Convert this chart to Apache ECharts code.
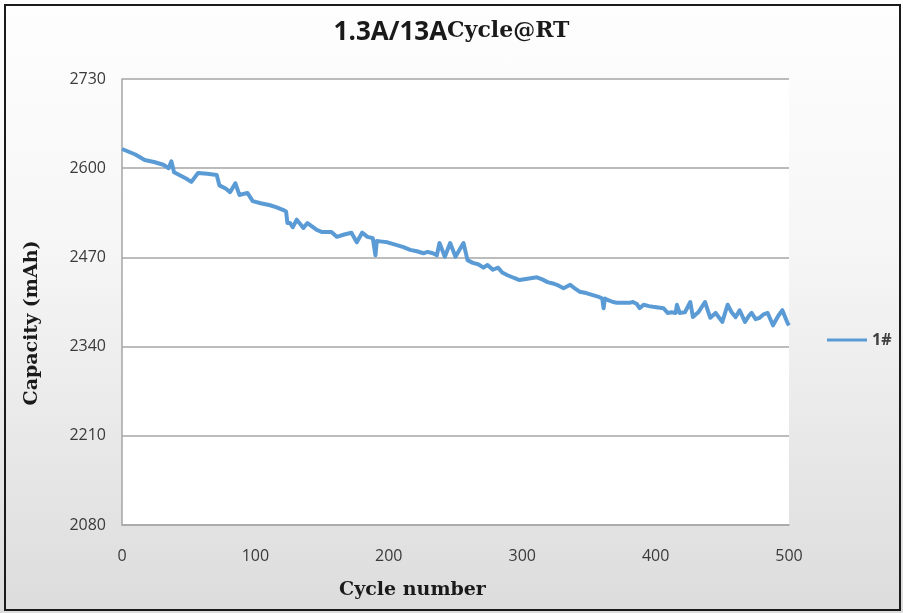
<!DOCTYPE html>
<html>
<head>
<meta charset="utf-8">
<script src="https://cdn.jsdelivr.net/npm/echarts@6/dist/echarts.min.js"></script>
<style>
  html, body { margin: 0; padding: 0; background: #fff; }
  #wrap { position: relative; width: 903px; height: 613px; }
  #main { width: 903px; height: 613px; background: linear-gradient(#fefefe, #f6f6f6 40%, #dcdcdc); }
  #frame { position: absolute; left: 4px; top: 4px; width: 897px; height: 607px; box-sizing: border-box;
           border: 2px solid #1a1a1a; pointer-events: none; }
</style>
</head>
<body>
<div id="wrap">
  <div id="main"></div>
  <div id="frame"></div>
</div>
<script>
const seriesName = '1#';
const cycles = [0, 5, 10, 17, 24, 31, 35, 37, 39, 43, 48, 52, 57, 64, 71, 73, 78, 81, 85, 88, 94, 98,
  104, 111, 116, 121, 123, 124, 126, 128, 131, 136, 139, 146, 150, 157, 161, 166, 172, 176, 180, 184,
  188, 190, 191, 195, 199, 206, 211, 216, 221, 226, 229, 233, 236, 238, 242, 246, 250, 253, 256, 259,
  263, 267, 271, 274, 278, 282, 285, 289, 294, 298, 304, 311, 315, 319, 323, 326, 331, 336, 340, 343,
  348, 353, 358, 360, 361, 362, 364, 368, 371, 376, 381, 383, 386, 388, 391, 395, 398, 402, 406, 409,
  412, 415, 416, 418, 422, 426, 428, 432, 437, 441, 445, 450, 454, 457, 460, 463, 467, 470, 472, 475,
  478, 481, 484, 488, 492, 495, 499, 500];
const capacity = [2628, 2624, 2620, 2612, 2609, 2605, 2600, 2610, 2594, 2590, 2585, 2580, 2593, 2592,
  2590, 2575, 2570, 2565, 2578, 2561, 2564, 2552, 2549, 2546, 2543, 2539, 2537, 2520, 2520, 2514, 2525,
  2513, 2520, 2510, 2507, 2507, 2500, 2503, 2506, 2492, 2506, 2500, 2498, 2473, 2494, 2493, 2492, 2488,
  2485, 2481, 2479, 2476, 2478, 2476, 2473, 2491, 2471, 2491, 2471, 2481, 2491, 2466, 2462, 2460, 2455,
  2459, 2452, 2455, 2448, 2444, 2440, 2437, 2439, 2441, 2438, 2434, 2432, 2430, 2425, 2430, 2424, 2420,
  2418, 2415, 2412, 2410, 2396, 2410, 2408, 2405, 2404, 2404, 2404, 2405, 2402, 2396, 2401, 2399, 2398,
  2397, 2396, 2389, 2390, 2389, 2401, 2389, 2390, 2405, 2383, 2390, 2405, 2382, 2389, 2376, 2401, 2390,
  2383, 2393, 2376, 2385, 2389, 2380, 2382, 2387, 2389, 2371, 2385, 2393, 2374, 2371];
const yTicks = [2080, 2210, 2340, 2470, 2600, 2730];
const xTicks = [0, 100, 200, 300, 400, 500];

const chart = echarts.init(document.getElementById('main'));
const serif = '"DejaVu Serif", "Liberation Serif", serif';

chart.setOption({
  backgroundColor: 'transparent',
  title: {
    text: '{a|1.3A/13A}{b|Cycle@RT}',
    left: 'center',
    top: 15,
    textStyle: {
      rich: {
        a: { fontFamily: '"Open Sans", sans-serif', fontWeight: 'bold', fontSize: 26, color: '#1a1a1a' },
        b: { fontFamily: serif, fontWeight: 'bold', fontSize: 22, color: '#1a1a1a', padding: [0, 0, 4, 0] }
      }
    }
  },
  legend: {
    data: [seriesName],
    left: 822,
    top: 327,
    icon: 'rect',
    itemWidth: 40,
    itemHeight: 3,
    itemGap: 6,
    textStyle: { fontFamily: '"Open Sans", sans-serif', fontSize: 16, fontWeight: 'bold', color: '#404040' }
  },
  grid: {
    left: 122, right: 114, top: 79, bottom: 88,
    show: true, backgroundColor: '#ffffff', borderWidth: 0
  },
  xAxis: {
    type: 'value',
    min: xTicks[0],
    max: xTicks[xTicks.length - 1],
    interval: 100,
    name: 'Cycle number',
    nameLocation: 'middle',
    nameGap: 56,
    nameTextStyle: { fontFamily: serif, fontWeight: 'bold', fontSize: 19, color: '#1a1a1a', padding: [0, 86, 0, 0] },
    axisLine: { show: true, lineStyle: { color: '#a6a6a6', width: 1.5 } },
    axisTick: { show: false },
    splitLine: { show: false },
    axisLabel: { margin: 23, fontFamily: '"Open Sans", sans-serif', fontSize: 16, color: '#3a3a3a' }
  },
  yAxis: {
    type: 'value',
    min: yTicks[0],
    max: yTicks[yTicks.length - 1],
    interval: 130,
    name: 'Capacity (mAh)',
    nameLocation: 'middle',
    nameGap: 80,
    nameTextStyle: { fontFamily: serif, fontWeight: 'bold', fontSize: 19, color: '#1a1a1a', padding: [0, 42, 0, 0] },
    axisLine: { show: true, lineStyle: { color: '#a6a6a6', width: 1.5 } },
    axisTick: { show: false },
    splitLine: { show: true, lineStyle: { color: '#a6a6a6', width: 1.5 } },
    axisLabel: { margin: 16, fontFamily: '"Open Sans", sans-serif', fontSize: 16, color: '#3a3a3a', formatter: (v) => String(v) }
  },
  series: [{
    name: seriesName,
    type: 'line',
    data: cycles.map((c, i) => [c, capacity[i]]),
    showSymbol: false,
    symbol: 'none',
    lineStyle: { color: '#5b9bd5', width: 4, join: 'round' },
    itemStyle: { color: '#5b9bd5' }
  }]
});
</script>
</body>
</html>
